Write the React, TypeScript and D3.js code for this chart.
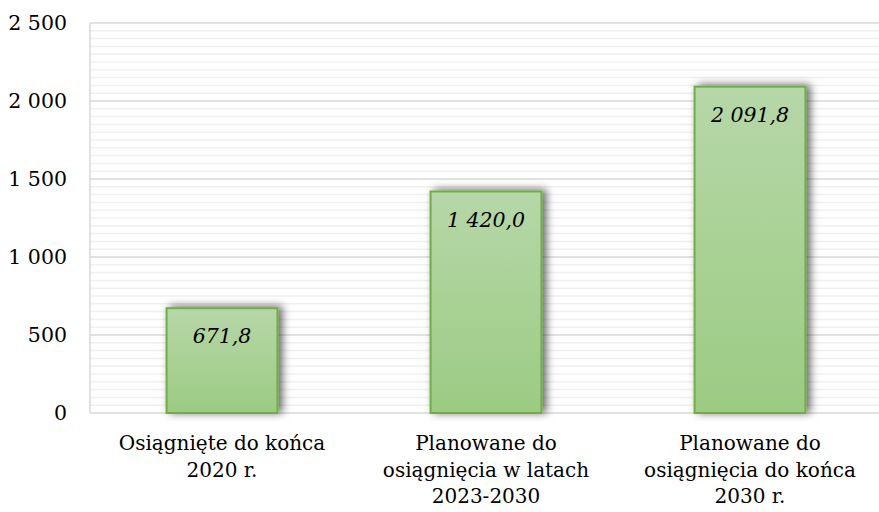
import React from "react";
import * as d3 from "d3";

const categories: string[][] = [
  ["Osiągnięte do końca", "2020 r."],
  ["Planowane do", "osiągnięcia w latach", "2023-2030"],
  ["Planowane do", "osiągnięcia do końca", "2030 r."],
];
const values: number[] = [671.8, 1420.0, 2091.8];
const valueLabels: string[] = ["671,8", "1 420,0", "2 091,8"];
const yTicks: number[] = [0, 500, 1000, 1500, 2000, 2500];
const yTickLabels: string[] = ["0", "500", "1 000", "1 500", "2 000", "2 500"];

const W = 879;
const H = 512;
const left = 90;
const right = 882;
const top = 23;
const bottom = 413;

export default function App() {
  const x = d3
    .scaleBand<number>()
    .domain(values.map((_, i) => i))
    .range([left, right])
    .paddingInner(0.58)
    .paddingOuter(0.29);
  const y = d3.scaleLinear().domain([0, 2500]).range([bottom, top]);
  const minor = d3.range(0, 2501, 50).filter((v) => v % 500 !== 0);
  const font = "'DejaVu Serif', serif";

  return (
    <svg
      width={W}
      height={H}
      style={{ position: "absolute", left: 0, top: 0, background: "#fff" }}
      fontFamily={font}
    >
      <defs>
        <linearGradient id="barGrad" x1="0" y1="0" x2="0" y2="1">
          <stop offset="0%" stopColor="#b6d7a8" />
          <stop offset="100%" stopColor="#9ccb83" />
        </linearGradient>
        <filter id="shadow" x="-20%" y="-20%" width="150%" height="150%">
          <feDropShadow dx="4" dy="-1" stdDeviation="4" floodColor="#000" floodOpacity="0.6" />
        </filter>
      </defs>
      {minor.map((v) => (
        <line key={"m" + v} x1={left} x2={W} y1={y(v)} y2={y(v)} stroke="#f0f0f0" strokeWidth={1.5} />
      ))}
      {yTicks.map((v) => (
        <line key={"g" + v} x1={left} x2={W} y1={y(v)} y2={y(v)} stroke="#d9d9d9" strokeWidth={1.5} />
      ))}
      <line x1={left} x2={left} y1={top} y2={bottom} stroke="#d9d9d9" strokeWidth={1.5} />
      {yTicks.map((v, i) => (
        <text key={"t" + v} x={67} y={y(v)} dy="0.35em" textAnchor="end" fontSize={20.5} fill="#000">
          {yTickLabels[i]}
        </text>
      ))}
      {values.map((v, i) => (
        <rect
          key={"b" + i}
          x={x(i)}
          y={y(v)}
          width={x.bandwidth()}
          height={bottom - y(v)}
          fill="url(#barGrad)"
          stroke="#70ad47"
          strokeWidth={2}
          filter="url(#shadow)"
        />
      ))}
      {values.map((v, i) => (
        <text
          key={"v" + i}
          x={(x(i) as number) + x.bandwidth() / 2}
          y={y(v) + 28}
          dy="0.35em"
          textAnchor="middle"
          fontSize={20.5}
          fontStyle="italic"
          fill="#000"
        >
          {valueLabels[i]}
        </text>
      ))}
      {categories.map((lines, i) => (
        <text
          key={"c" + i}
          x={(x(i) as number) + x.bandwidth() / 2}
          y={443}
          textAnchor="middle"
          fontSize={20}
          fill="#000"
        >
          {lines.map((l, j) => (
            <tspan key={j} x={(x(i) as number) + x.bandwidth() / 2} y={443 + j * 26.5} dy="0.35em">
              {l}
            </tspan>
          ))}
        </text>
      ))}
    </svg>
  );
}
